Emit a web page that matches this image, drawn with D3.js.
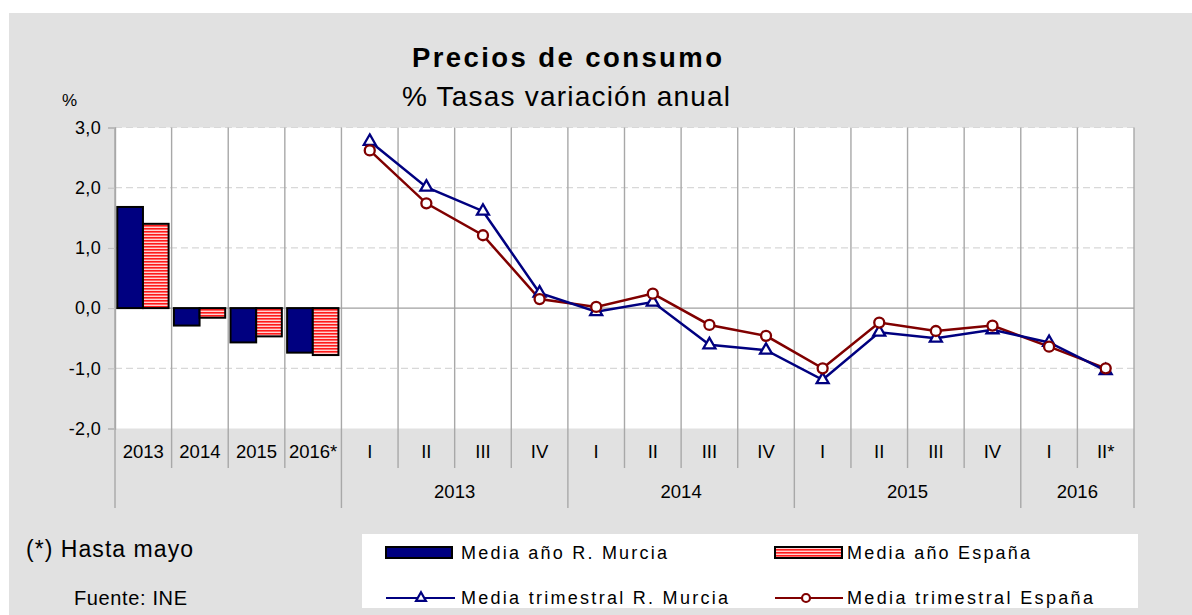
<!DOCTYPE html>
<html>
<head>
<meta charset="utf-8">
<script src="https://cdn.jsdelivr.net/npm/d3@7"></script>
<style>
  body { margin: 0; background: #fff; }
  text { font-family: "Liberation Sans", Arial, sans-serif; }
</style>
</head>
<body>
<svg id="chart" width="1192" height="615"></svg>
<script>
// annual bars
const annualCats = ["2013", "2014", "2015", "2016*"];
const annualMurcia = [1.68, -0.29, -0.57, -0.74];
const annualEspana = [1.40, -0.16, -0.47, -0.78];

// quarterly lines
const quarterCats = ["I", "II", "III", "IV", "I", "II", "III", "IV", "I", "II", "III", "IV", "I", "II*"];
const quarterMurcia = [2.77, 2.01, 1.61, 0.25, -0.06, 0.10, -0.61, -0.70, -1.19, -0.40, -0.50, -0.36, -0.57, -1.04];
const quarterEspana = [2.62, 1.74, 1.21, 0.15, 0.02, 0.24, -0.28, -0.46, -1.00, -0.24, -0.38, -0.29, -0.64, -1.00];

const yearGroups = ["2013", "2014", "2015", "2016"];
const yearSizes = [4, 4, 4, 2];
const yTicks = [-2, -1, 0, 1, 2, 3];

const navy = "#000080", darkred = "#800000";

const svg = d3.select("#chart");
const W = 1192, H = 615;
const pL = 115, pR = 1134, pT = 127.5, pB = 428.5;

svg.append("rect").attr("x", 9).attr("y", 13).attr("width", W - 9).attr("height", H - 13).attr("fill", "#e1e1e1");

// stripes for España
const defs = svg.append("defs");
const pat = defs.append("pattern").attr("id", "stripes").attr("patternUnits", "userSpaceOnUse")
  .attr("width", 8).attr("height", 3);
pat.append("rect").attr("width", 8).attr("height", 3).attr("fill", "#ffd2d2");
pat.append("rect").attr("width", 8).attr("height", 1.6).attr("fill", "#ff1a1a");

const cats = annualCats.concat(quarterCats);
const x = d3.scaleBand().domain(d3.range(cats.length)).range([pL, pR]);
const y = d3.scaleLinear().domain([-2, 3]).range([pB, pT]);

svg.append("rect").attr("x", pL).attr("y", pT).attr("width", pR - pL).attr("height", pB - pT).attr("fill", "#fff");

// horizontal grid
svg.append("g").selectAll("line").data(yTicks.filter(d => d !== 0 && d !== -2)).enter()
  .append("line")
  .attr("x1", pL).attr("x2", pR)
  .attr("y1", d => y(d)).attr("y2", d => y(d))
  .attr("stroke", "#d8d8d8").attr("stroke-width", 1.2).attr("stroke-dasharray", "7,4");

// vertical grid + ticks under the plot
const bounds = d3.range(cats.length + 1);
const groupEdges = [0, 4];
let acc = 4;
yearSizes.forEach(s => { acc += s; groupEdges.push(acc); });
const bx = i => i < cats.length ? x(i) : pR;

svg.append("g").selectAll("line").data(bounds).enter()
  .append("line")
  .attr("x1", bx).attr("x2", bx)
  .attr("y1", pT)
  .attr("y2", i => groupEdges.includes(i) ? 508 : 468)
  .attr("stroke", "#a8a8a8").attr("stroke-width", 1.4);

// zero line
svg.append("line").attr("x1", pL).attr("x2", pR).attr("y1", y(0)).attr("y2", y(0))
  .attr("stroke", "#a0a0a0").attr("stroke-width", 1.4);

// y axis
const yAxis = svg.append("g").attr("transform", `translate(${pL},0)`)
  .call(d3.axisLeft(y).tickValues(yTicks).tickSize(7).tickPadding(7)
    .tickFormat(d => d.toFixed(1).replace(".", ",")));
yAxis.select(".domain").attr("stroke", "#a8a8a8").attr("stroke-width", 1.4);
yAxis.selectAll(".tick line").attr("stroke", "#c0c0c0");
yAxis.selectAll(".tick text").attr("font-size", 18).attr("fill", "#000")
  .attr("font-family", "Liberation Sans, Arial, sans-serif").attr("letter-spacing", 0.3);

svg.append("text").attr("x", 62).attr("y", 106).attr("font-size", 17).text("%");

// bars
const sub = d3.scaleBand().domain([0, 1]).range([2.3, x.bandwidth() - 3]);
const barData = annualCats.map((c, i) => ({ i: i, m: annualMurcia[i], e: annualEspana[i] }));
const gb = svg.append("g");
gb.selectAll("rect.m").data(barData).enter().append("rect")
  .attr("x", d => x(d.i) + sub(0)).attr("width", sub.bandwidth())
  .attr("y", d => y(Math.max(0, d.m))).attr("height", d => Math.abs(y(d.m) - y(0)))
  .attr("fill", navy).attr("stroke", "#000").attr("stroke-width", 2);
gb.selectAll("rect.e").data(barData).enter().append("rect")
  .attr("x", d => x(d.i) + sub(1)).attr("width", sub.bandwidth())
  .attr("y", d => y(Math.max(0, d.e))).attr("height", d => Math.abs(y(d.e) - y(0)))
  .attr("fill", "url(#stripes)").attr("stroke", "#000").attr("stroke-width", 2);

// lines
const qx = i => x(i + annualCats.length) + x.bandwidth() / 2;
const line = d3.line().x((d, i) => qx(i)).y(d => y(d));
svg.append("path").datum(quarterEspana).attr("d", line)
  .attr("fill", "none").attr("stroke", darkred).attr("stroke-width", 2.5);
svg.append("path").datum(quarterMurcia).attr("d", line)
  .attr("fill", "none").attr("stroke", navy).attr("stroke-width", 2.5);

const tri = d3.symbol(d3.symbolTriangle).size(62);
svg.append("g").selectAll("path").data(quarterMurcia).enter().append("path")
  .attr("d", tri).attr("transform", (d, i) => `translate(${qx(i)},${y(d)})`)
  .attr("fill", "#fff").attr("stroke", navy).attr("stroke-width", 2.3);
svg.append("g").selectAll("circle").data(quarterEspana).enter().append("circle")
  .attr("cx", (d, i) => qx(i)).attr("cy", d => y(d)).attr("r", 5)
  .attr("fill", "#fff").attr("stroke", darkred).attr("stroke-width", 2.3);

// category labels
svg.append("g").selectAll("text").data(cats).enter().append("text")
  .attr("x", (d, i) => x(i) + x.bandwidth() / 2).attr("y", 458)
  .attr("text-anchor", "middle").attr("font-size", 18.5).text(d => d);

// year labels
let start = annualCats.length;
const yearPos = yearGroups.map((g, k) => {
  const s = start, e = start + yearSizes[k];
  start = e;
  return { label: g, cx: (bx(s) + bx(e)) / 2 };
});
svg.append("g").selectAll("text").data(yearPos).enter().append("text")
  .attr("x", d => d.cx).attr("y", 498)
  .attr("text-anchor", "middle").attr("font-size", 18.5).text(d => d.label);

// titles
svg.append("text").attr("x", 567).attr("y", 66.5).attr("text-anchor", "middle")
  .attr("font-size", 27.5).attr("font-weight", "bold")
  .attr("textLength", 310).attr("lengthAdjust", "spacing").text("Precios de consumo");
svg.append("text").attr("x", 566).attr("y", 106).attr("text-anchor", "middle")
  .attr("font-size", 28)
  .attr("textLength", 328).attr("lengthAdjust", "spacing").text("% Tasas variación anual");

// notes
svg.append("text").attr("x", 26).attr("y", 557).attr("font-size", 23)
  .attr("textLength", 167).attr("lengthAdjust", "spacing").text("(*) Hasta mayo");
svg.append("text").attr("x", 74).attr("y", 605).attr("font-size", 20)
  .attr("textLength", 113).attr("lengthAdjust", "spacing").text("Fuente: INE");

// legend
const lg = svg.append("g");
lg.append("rect").attr("x", 362).attr("y", 534).attr("width", 776).attr("height", 74).attr("fill", "#fff");
lg.append("rect").attr("x", 386).attr("y", 547).attr("width", 66).attr("height", 11)
  .attr("fill", navy).attr("stroke", "#000").attr("stroke-width", 2);
lg.append("rect").attr("x", 775).attr("y", 547).attr("width", 67).attr("height", 11)
  .attr("fill", "url(#stripes)").attr("stroke", "#000").attr("stroke-width", 2);
lg.append("line").attr("x1", 386).attr("x2", 455).attr("y1", 598).attr("y2", 598)
  .attr("stroke", navy).attr("stroke-width", 2.2);
lg.append("path").attr("d", d3.symbol(d3.symbolTriangle).size(42)).attr("transform", "translate(421,598)")
  .attr("fill", "#fff").attr("stroke", navy).attr("stroke-width", 2.2);
lg.append("line").attr("x1", 775).attr("x2", 843).attr("y1", 598).attr("y2", 598)
  .attr("stroke", darkred).attr("stroke-width", 2.2);
lg.append("circle").attr("cx", 806).attr("cy", 598).attr("r", 4)
  .attr("fill", "#fff").attr("stroke", darkred).attr("stroke-width", 2.2);

const legTexts = [
  { t: "Media año R. Murcia", x: 461, y: 559, w: 206 },
  { t: "Media año España", x: 847, y: 559, w: 183 },
  { t: "Media trimestral R. Murcia", x: 461, y: 604, w: 267 },
  { t: "Media trimestral España", x: 847, y: 604, w: 246 }
];
lg.selectAll("text").data(legTexts).enter().append("text")
  .attr("x", d => d.x).attr("y", d => d.y).attr("font-size", 18)
  .attr("textLength", d => d.w).attr("lengthAdjust", "spacing").text(d => d.t);
</script>
</body>
</html>
